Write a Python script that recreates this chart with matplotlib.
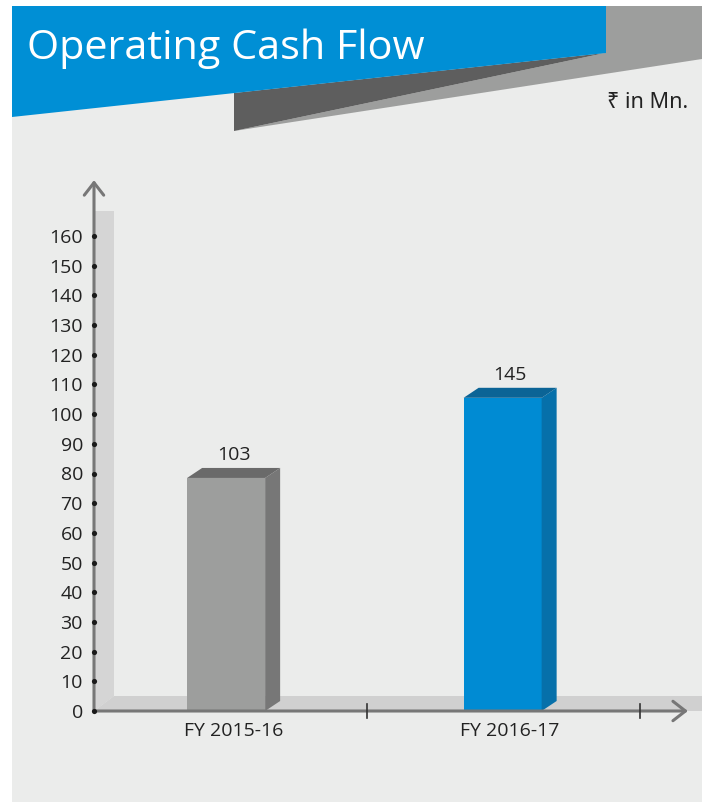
import matplotlib
matplotlib.use("Agg")
import matplotlib.pyplot as plt
from matplotlib.patches import Polygon, Rectangle

# ---- data ----
categories = ["FY 2015-16", "FY 2016-17"]
value_labels = ["103", "145"]          # labels printed on the bars
bar_heights = [78.5, 105.5]            # heights as drawn against the axis
y_ticks = list(range(0, 161, 10))
title = "Operating Cash Flow"
unit_note = "\u20b9 in Mn."

FAM = ["Open Sans", "Noto Sans", "DejaVu Sans"]
plt.rcParams["font.family"] = FAM

W, H = 706, 802
fig = plt.figure(figsize=(W / 100, H / 100), dpi=100)
fig.patch.set_facecolor("white")

# ---- overlay in pixel coordinates for decorations ----
bg = fig.add_axes([0, 0, 1, 1])
bg.set_xlim(0, W)
bg.set_ylim(H, 0)
bg.axis("off")
bg.set_zorder(0)

BG = "#ebeceb"
bg.add_patch(Rectangle((12, 6), 690, 800, color=BG, lw=0))
# banner
bg.add_patch(Polygon([(605, 6), (702, 6), (702, 59), (234, 131), (605, 53)], closed=True, color="#9d9e9d", lw=0))
bg.add_patch(Polygon([(234, 93), (605, 53), (234, 131)], closed=True, color="#5e5e5e", lw=0))
bg.add_patch(Polygon([(12, 6), (606, 6), (606, 53), (12, 117)], closed=True, color="#008fd5", lw=0))

# wall and floor
bg.add_patch(Polygon([(94, 211), (114, 211), (114, 696), (94, 711)], closed=True, color="#d5d5d5", lw=0))
bg.add_patch(Polygon([(94, 711), (114, 696), (702, 696), (702, 711)], closed=True, color="#d0d0d0", lw=0))

# title text, fitted to width
t = bg.text(27, 49, title, color="white", fontsize=31, va="center", ha="left", family=FAM)
fig.canvas.draw()
bb = t.get_window_extent()
t.set_fontsize(31 * 398 / bb.width)

bg.text(688, 103, unit_note, color="#222222", fontsize=15.5, ha="right", va="center",
        family=["Noto Sans", "DejaVu Sans"])

# ---- data axes ----
x0px, x1px = 94, 94 + 2 * 276.5
y0px, y1px = 711, 236
ax = fig.add_axes([x0px / W, (H - y0px) / H, (x1px - x0px) / W, (y0px - y1px) / H])
ax.set_zorder(1)
ax.patch.set_alpha(0)
ax.set_xlim(0, 2)
ax.set_ylim(0, 160)
for s in ax.spines.values():
    s.set_visible(False)

px_x = 276.5          # px per x unit
px_y = (y0px - y1px) / 160.0
front_w = 78 / px_x
dx = 15 / px_x
dy = 10 / px_y
front_cols = ["#9d9e9d", "#008bd3"]
side_cols = ["#777777", "#0670aa"]
top_cols = ["#6a6a6a", "#0b6496"]
positions = [i + 0.505 for i in range(len(categories))]

for xc, h, lab, fc, sc, tc in zip(positions, bar_heights, value_labels, front_cols, side_cols, top_cols):
    left = xc - (front_w + dx) / 2
    right = left + front_w
    ax.bar(left, h, width=front_w, align="edge", color=fc, lw=0, zorder=3)
    ax.add_patch(Polygon([(right, 0), (right + dx, dy), (right + dx, h + dy), (right, h)],
                         closed=True, color=sc, lw=0, zorder=3))
    ax.add_patch(Polygon([(left, h), (left + dx, h + dy), (right + dx, h + dy), (right, h)],
                         closed=True, color=tc, lw=0, zorder=3))
    ax.text(xc, h + dy + 1.2, lab, ha="center", va="bottom", fontsize=14, color="#222222")

# y ticks
ax.set_yticks(y_ticks)
ax.set_yticklabels([str(v) for v in y_ticks], fontsize=14, color="#222222")
ax.tick_params(axis="y", length=0, pad=8)
ax.set_xticks(positions)
ax.set_xticklabels(categories, fontsize=14, color="#222222")
ax.tick_params(axis="x", length=0, pad=8)

# axis lines with arrows
AX = "#777777"
ax.annotate("", xy=(0, 178.8), xytext=(0, 0), xycoords="data",
            arrowprops=dict(arrowstyle="->,head_length=0.45,head_width=0.35", color=AX, lw=2.2,
                            shrinkA=0, shrinkB=0, mutation_scale=20), annotation_clip=False, zorder=4)
ax.annotate("", xy=(2.148, 0), xytext=(0, 0), xycoords="data",
            arrowprops=dict(arrowstyle="->,head_length=0.45,head_width=0.35", color=AX, lw=2.2,
                            shrinkA=0, shrinkB=0, mutation_scale=20), annotation_clip=False, zorder=4)
# boundary ticks
for bx in [0.987, 1.975]:
    ax.plot([bx, bx], [-2.3, 2.3], color="#333333", lw=1.2, clip_on=False, zorder=5)
# tick dots
ax.scatter([0] * len(y_ticks), y_ticks, s=14, color="#1a1a1a", clip_on=False, zorder=6, lw=0)

fig.savefig("out.png", dpi=100, facecolor="white")
